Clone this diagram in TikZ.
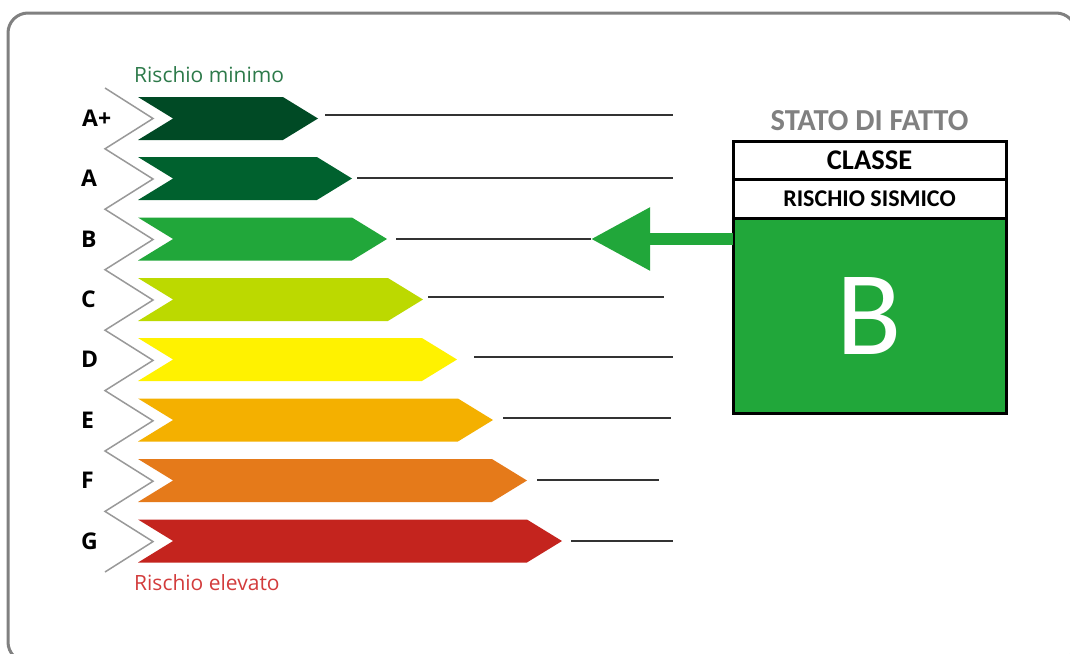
\documentclass[tikz,border=0pt]{standalone}
\usepackage{fontspec}
\setmainfont{Carlito}
\newfontfamily\barfont{Open Sans}
\usepackage{tikz}
\usetikzlibrary{positioning,shapes.symbols,arrows.meta}
\definecolor{clAp}{RGB}{0,74,37}
\definecolor{clA}{RGB}{0,97,46}
\definecolor{clB}{RGB}{33,167,58}
\definecolor{clC}{RGB}{188,217,0}
\definecolor{clD}{RGB}{255,242,0}
\definecolor{clE}{RGB}{244,176,0}
\definecolor{clF}{RGB}{229,122,26}
\definecolor{clG}{RGB}{196,36,30}
\definecolor{minverde}{RGB}{45,122,74}
\definecolor{maxrosso}{RGB}{211,60,60}
\tikzset{
  classbar/.style={signal, signal to=east, signal from=west, signal pointer angle=63,
    minimum height=43pt, inner sep=0pt, outer sep=0pt},
  classlbl/.style={anchor=west, inner sep=0pt, font=\barfont\bfseries\fontsize{23}{23}\selectfont},
  risklbl/.style={anchor=west, inner sep=0pt, font=\barfont\fontsize{21}{21}\selectfont},
  rule/.style={draw=black!80, line width=1.3pt},
  cell/.style={draw=black, line width=3pt, outer sep=0pt, inner sep=0pt, minimum width=273pt},
}
\begin{document}
\begin{tikzpicture}[x=1pt,y=-1pt]
\useasboundingbox (0,0) rectangle (1070,653);
\fill[white] (0,0) rectangle (1070,653);
\draw[gray, line width=3pt, rounded corners=20pt] (8,13) rectangle (1076,662);

\node (rmin) at (134,75) [risklbl, text=minverde] {Rischio minimo};
\node (rmax) at (134,583) [risklbl, text=maxrosso] {Rischio elevato};

\draw[gray!80, line width=1.5pt] (105,88) -- (153,118.5) -- (105,148.8) -- (153,179) -- (105,209.2)
  -- (153,239.5) -- (105,269.7) -- (153,300) -- (105,330.2) -- (153,360.4) -- (105,390.6)
  -- (153,420.8) -- (105,451) -- (153,481.2) -- (105,511.4) -- (153,541.6) -- (105,572);

\node (aAp) at (228,118.5) [classbar, fill=clAp, minimum width=180pt] {};
\node (aA) at (245,178.5) [classbar, fill=clA, minimum width=214pt] {};
\node (aB) at (262.5,239) [classbar, fill=clB, minimum width=249pt] {};
\node (aC) at (280.5,299.5) [classbar, fill=clC, minimum width=285pt] {};
\node (aD) at (297.5,359.5) [classbar, fill=clD, minimum width=319pt] {};
\node (aE) at (315.5,420) [classbar, fill=clE, minimum width=355pt] {};
\node (aF) at (332.5,480.5) [classbar, fill=clF, minimum width=389pt] {};
\node (aG) at (350,541) [classbar, fill=clG, minimum width=424pt] {};

\node (lAp) at (82,118.5) [classlbl] {A+};
\node (lA) at (81,178.5) [classlbl] {A};
\node (lB) at (81,239) [classlbl] {B};
\node (lC) at (81,299.5) [classlbl] {C};
\node (lD) at (81,359.5) [classlbl] {D};
\node (lE) at (81,420) [classlbl] {E};
\node (lF) at (81,480.5) [classlbl] {F};
\node (lG) at (81,541) [classlbl] {G};

\coordinate (eAp) at (673,115);
\coordinate (eA) at (673,178);
\coordinate (tipB) at (591,239);
\coordinate (eC) at (664,297);
\coordinate (eD) at (673,357);
\coordinate (eE) at (671,418);
\coordinate (eF) at (659,480);
\coordinate (eG) at (673,541);

\draw[rule, shorten <=7pt] (aAp.east |- eAp) -- (eAp);
\draw[rule, shorten <=5pt] (aA.east |- eA) -- (eA);
\draw[rule, shorten <=9pt] (aB.east |- tipB) -- (tipB);
\draw[rule, shorten <=5pt] (aC.east |- eC) -- (eC);
\draw[rule, shorten <=17pt] (aD.east |- eD) -- (eD);
\draw[rule, shorten <=10pt] (aE.east |- eE) -- (eE);
\draw[rule, shorten <=10pt] (aF.east |- eF) -- (eF);
\draw[rule, shorten <=9pt] (aG.east |- eG) -- (eG);

\node (classe) at (869.5,160) [cell, fill=white, minimum height=38pt, font=\bfseries\fontsize{28.5}{28.5}\selectfont] {CLASSE};
\node (rischio) [cell, fill=white, below=0pt of classe, minimum height=39pt, font=\bfseries\fontsize{24}{24}\selectfont] {RISCHIO SISMICO};
\node (classB) [cell, fill=clB, below=0pt of rischio, minimum height=195pt, text=white, font=\fontsize{120}{120}\selectfont] {B};
\node (stato) [above=10pt of classe, inner sep=0pt, outer sep=0pt, text=gray, font=\bfseries\fontsize{30.5}{30.5}\selectfont] {STATO DI FATTO};

\draw[clB, line width=12pt, -{Triangle[length=59pt, width=60pt]}] ([yshift=-21pt]classB.north west) -- (tipB);
\end{tikzpicture}
\end{document}
